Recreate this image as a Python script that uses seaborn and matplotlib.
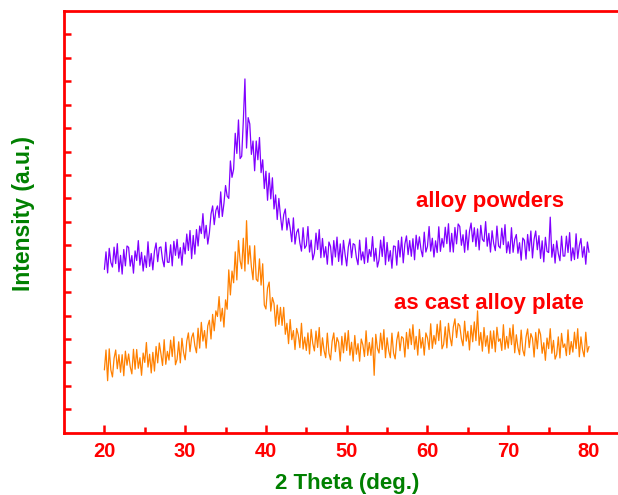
import numpy as np
import pandas as pd
import matplotlib
matplotlib.use("Agg")
import matplotlib.pyplot as plt
import seaborn as sns

# 2-theta grid: 20 .. 80 deg, step 0.2
two_theta = [round(20 + 0.2 * i, 2) for i in range(301)]

# alloy powders (purple), intensity in a.u.
powders = [
    697, 772, 682, 787, 727,  707, 792, 722, 807, 687,  757, 677, 782, 712, 797,
    791, 711, 756, 681, 776,  735, 820, 715, 770, 690,  755, 705, 815, 710, 765,
    695, 775, 810, 730, 790,  793, 738, 708, 813, 728,  727, 802, 712, 817, 757,
    825, 745, 790, 715, 810,  763, 848, 778, 863, 743,  842, 762, 867, 797, 882,
    850, 935, 830, 885, 805,  853, 933, 968, 888, 948,  968, 918, 1028, 923, 978,
    1055, 1010, 1000, 1160, 1090,  1125, 1278, 1192, 1335, 1170,  1180, 1330, 1510, 1215, 1345,
    1318, 1188, 1245, 1118, 1245,  1165, 1260, 1110, 1165, 1042,  1116, 992, 1108, 998, 1088,
    955, 1015, 910, 1000, 925,  865, 930, 955, 865, 915,  873, 815, 917, 805, 855,
    870, 810, 775, 875, 787,  799, 880, 771, 822, 738,  767, 852, 782, 867, 747,
    829, 749, 794, 719, 814,  795, 715, 820, 750, 835,  731, 806, 716, 821, 761,
    712, 792, 827, 747, 807,  802, 747, 717, 822, 737,  772, 722, 832, 727, 782,
    752, 837, 732, 787, 707,  737, 822, 752, 837, 717,  812, 732, 777, 702, 797,
    795, 715, 820, 750, 835,  725, 805, 840, 760, 820,  753, 828, 738, 843, 783,
    836, 781, 751, 856, 771,  795, 880, 775, 830, 750,  819, 769, 879, 774, 829,
    792, 877, 807, 892, 772,  851, 771, 876, 806, 891,  880, 800, 845, 770, 865,
    780, 860, 895, 815, 875,  795, 870, 780, 885, 825,  816, 901, 796, 851, 771,
    862, 807, 777, 882, 797,  788, 873, 803, 888, 768,  815, 765, 875, 770, 825,
    846, 766, 811, 736, 831,  821, 741, 846, 776, 861,  746, 826, 861, 781, 841,
    744, 819, 729, 834, 774,  769, 920, 749, 804, 724,  819, 764, 734, 839, 754,
    754, 839, 769, 854, 734,  789, 739, 849, 744, 799,  829, 749, 794, 719, 814,
    770,
]

# as cast alloy plate (orange), intensity in a.u.
plate = [
    268, 353, 222, 358, 268,  238, 318, 353, 273, 333,  258, 333, 243, 348, 288,
    336, 281, 251, 356, 271,  355, 275, 320, 245, 340,  300, 385, 280, 335, 255,
    343, 263, 368, 298, 383,  337, 287, 397, 292, 347,  310, 395, 325, 410, 290,
    313, 388, 298, 403, 343,  311, 391, 426, 346, 406,  426, 371, 341, 446, 361,
    471, 391, 436, 361, 456,  480, 400, 505, 435, 520,  496, 581, 476, 531, 451,
    567, 527, 695, 588, 690,  640, 772, 652, 820, 735,  700, 830, 690, 905, 720,
    798, 708, 653, 798, 655,  646, 742, 630, 721, 545,  528, 618, 643, 519, 577,
    552, 455, 545, 462, 535,  458, 535, 420, 467, 380,  483, 397, 436, 355, 445,
    418, 363, 467, 357, 408,  351, 426, 336, 441, 381,  349, 434, 364, 449, 329,
    405, 350, 320, 425, 340,  311, 391, 426, 346, 406,  386, 306, 411, 341, 426,
    351, 436, 331, 386, 306,  415, 335, 380, 305, 400,  375, 325, 435, 330, 385,
    330, 405, 245, 420, 360,  340, 425, 355, 440, 320,  405, 350, 320, 425, 340,
    315, 395, 430, 350, 410,  403, 323, 428, 358, 443,  376, 461, 356, 411, 331,
    441, 361, 406, 331, 426,  405, 355, 465, 360, 415,  378, 463, 393, 478, 358,
    377, 452, 362, 467, 407,  371, 451, 486, 406, 466,  456, 401, 371, 476, 391,
    433, 353, 458, 388, 473,  393, 520, 373, 428, 348,  449, 369, 414, 339, 434,
    360, 435, 345, 450, 390,  401, 351, 461, 356, 411,  361, 446, 376, 461, 341,
    418, 363, 333, 438, 353,  328, 408, 443, 363, 423,  403, 323, 428, 358, 443,
    419, 339, 384, 309, 404,  359, 444, 339, 394, 314,  334, 409, 319, 424, 364,
    379, 329, 439, 334, 389,  344, 429, 359, 444, 324,  409, 354, 324, 429, 344,
    368,
]

x_ticks = [20, 30, 40, 50, 60, 70, 80]
labels = ["alloy powders", "as cast alloy plate"]

sns.set_style("ticks")
plt.rcParams["font.family"] = ["Liberation Sans", "DejaVu Sans"]
plt.rcParams["font.weight"] = "bold"

RED = "#FF0000"
GREEN = "#008000"
PURPLE = "#8000FF"
ORANGE = "#FF8000"

df = pd.DataFrame({
    "two_theta": two_theta * 2,
    "intensity": powders + plate,
    "sample": [labels[0]] * len(powders) + [labels[1]] * len(plate),
})

fig = plt.figure(figsize=(6.18, 4.95), dpi=100)
ax = fig.add_axes([64 / 618, 62.3 / 495, 565.4 / 618, 421.7 / 495])

sns.lineplot(data=df, x="two_theta", y="intensity", hue="sample",
             palette={labels[0]: PURPLE, labels[1]: ORANGE},
             estimator=None, linewidth=0.9, legend=False, ax=ax)

ax.set_xlim(15, 85)
ax.set_ylim(0, 1800)
ax.set_xticks(x_ticks)
ax.set_xticks([25, 35, 45, 55, 65, 75], minor=True)
ax.set_yticks(list(range(100, 1800, 100)))
ax.set_yticklabels([])

for side in ["left", "bottom", "top", "right"]:
    ax.spines[side].set_color(RED)
    ax.spines[side].set_linewidth(2)
    ax.spines[side].set_visible(True)

ax.tick_params(axis="x", which="major", direction="in", length=6, width=1.8,
               color=RED, labelcolor=RED, labelsize=14.5, pad=7, top=False)
ax.tick_params(axis="x", which="minor", direction="in", length=4, width=1.8,
               color=RED, top=False)
ax.tick_params(axis="y", which="major", direction="in", length=5, width=1.8,
               color=RED, right=False)
for t in ax.get_xticklabels():
    t.set_fontweight("bold")

ax.set_xlabel("2 Theta (deg.)", color=GREEN, fontsize=16, fontweight="bold")
ax.xaxis.set_label_coords(0.5, -0.095)
ax.set_ylabel("Intensity (a.u.)", color=GREEN, fontsize=16.5, fontweight="bold")
ax.yaxis.set_label_coords(-0.051, 0.519)

ax.text(67.7, 985, labels[0], color=RED, fontsize=16, fontweight="bold",
        ha="center", va="center")
ax.text(67.6, 550, labels[1], color=RED, fontsize=16, fontweight="bold",
        ha="center", va="center")

fig.savefig("out.png", dpi=100)
